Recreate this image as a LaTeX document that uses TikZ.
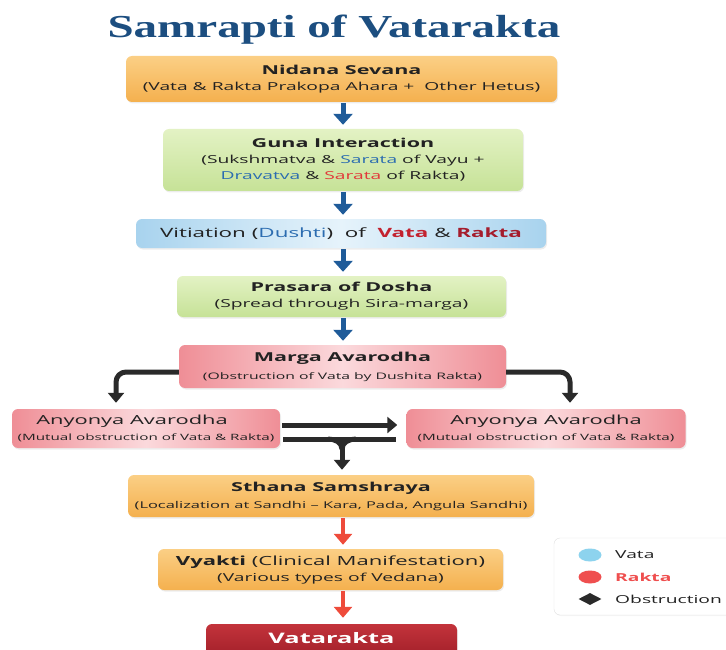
\documentclass[tikz,border=0pt]{standalone}
\usepackage{fontspec}
\setmainfont{Open Sans}[FakeStretch=1.75]
\newfontfamily\titlefont{Liberation Serif}[FakeStretch=1.47]
\usetikzlibrary{arrows.meta,shapes.geometric,shadows}

\definecolor{navy}{HTML}{1C4E80}
\definecolor{txt}{HTML}{222222}
\definecolor{arrblue}{HTML}{1F5B99}
\definecolor{arrdark}{HTML}{2A2A2A}
\definecolor{arrred}{HTML}{EE4B3B}
\definecolor{orgT}{HTML}{FBCF85}
\definecolor{orgB}{HTML}{F4B04E}
\definecolor{grnT}{HTML}{E3F2C4}
\definecolor{grnB}{HTML}{C6E297}
\definecolor{bluE}{HTML}{A8D3EE}
\definecolor{bluM}{HTML}{E6F3FB}
\definecolor{pnkE}{HTML}{EF8E96}
\definecolor{pnkM}{HTML}{FBD9DC}
\definecolor{vrkT}{HTML}{C3333B}
\definecolor{vrkB}{HTML}{A3202A}
\definecolor{dushti}{HTML}{2B6CB0}
\definecolor{vatared}{HTML}{C3222F}
\definecolor{raktared}{HTML}{A51D2D}
\definecolor{sarred}{HTML}{E2383A}
\definecolor{legvata}{HTML}{8DD3EE}
\definecolor{legrakta}{HTML}{EF4F4F}

\newcommand{\bhead}[1]{{\fontsize{12.3}{16}\selectfont\bfseries #1}}
\newcommand{\rhead}[1]{{\fontsize{12.5}{16}\selectfont #1}}

\begin{document}
\begin{tikzpicture}[x=1pt, y=-1pt]
	\tikzset{bx/.style={rounded corners=6pt, align=center, inner sep=0pt, text=txt,
			font=\fontsize{11}{16}\selectfont,
			drop shadow={opacity=0.15, shadow xshift=1pt, shadow yshift=-1.5pt}},
		org/.style={bx, top color=orgT, bottom color=orgB},
		grn/.style={bx, top color=grnT, bottom color=grnB},
		blu/.style={bx, left color=bluE, right color=bluE, middle color=bluM},
		pnk/.style={bx, left color=pnkE, right color=pnkE, middle color=pnkM},
		barr/.style={-{Triangle[width=19pt,length=11pt]}, line width=5pt, draw=arrblue},
		darr/.style={-{Triangle[width=16pt,length=10pt]}, line width=5pt, draw=arrdark, rounded corners=10pt},
		dline/.style={line width=5pt, draw=arrdark},
		rarr/.style={-{Triangle[width=18pt,length=11pt]}, line width=4pt, draw=arrred},
		legtxt/.style={anchor=west, inner sep=0pt, font=\fontsize{11}{13}\selectfont, text=txt}};

	\useasboundingbox (0,0) rectangle (726,650);

	\node[anchor=base, text=navy, font=\titlefont\fontsize{32}{40}\selectfont\bfseries] (title) at (334,38) {Samrapti of Vatarakta};

	\node[org, minimum width=431pt, minimum height=46pt] (nid) at (341.5,79)
		{\bhead{Nidana Sevana}\\(Vata \& Rakta Prakopa Ahara +\ \ Other Hetus)};
	\node[grn, minimum width=360pt, minimum height=62pt] (guna) at (343,160)
		{\bhead{Guna Interaction}\\(Sukshmatva \& \textcolor{dushti}{Sarata} of Vayu +\\\textcolor{dushti}{Dravatva} \& \textcolor{sarred}{Sarata} of Rakta)};
	\node[blu, minimum width=410pt, minimum height=29pt, font=\fontsize{12.8}{16}\selectfont] (vit) at (341,233.5)
		{Vitiation (\textcolor{dushti}{Dushti})\ \ of\ \ \textbf{\textcolor{vatared}{Vata}} \& \textbf{\textcolor{raktared}{Rakta}}};
	\node[grn, minimum width=329pt, minimum height=41pt] (pras) at (341.5,296.5)
		{\bhead{Prasara of Dosha}\\(Spread through Sira-marga)};
	\node[pnk, minimum width=327pt, minimum height=43pt, font=\fontsize{9}{18}\selectfont] (marga) at (342.5,366.5)
		{\bhead{Marga Avarodha}\\(Obstruction of Vata by Dushita Rakta)};
	\node[pnk, minimum width=268pt, minimum height=39pt, font=\fontsize{8.7}{16}\selectfont] (anyl) at (146,428.5)
		{\rhead{Anyonya Avarodha}\hspace*{28pt}\\(Mutual obstruction of Vata \& Rakta)};
	\node[pnk, minimum width=279pt, minimum height=39pt, font=\fontsize{8.7}{16}\selectfont] (anyr) at (546,428.5)
		{\rhead{Anyonya Avarodha}\\(Mutual obstruction of Vata \& Rakta)};
	\node[org, minimum width=406pt, minimum height=42pt, font=\fontsize{9.4}{17}\selectfont] (sthana) at (331,496)
		{\bhead{Sthana Samshraya}\\(Localization at Sandhi -- Kara, Pada, Angula Sandhi)};
	\node[org, minimum width=345pt, minimum height=41pt] (vyakti) at (330.5,569.5)
		{{\fontsize{12.6}{16}\selectfont\textbf{Vyakti} (Clinical Manifestation)}\\(Various types of Vedana)};
	\node[bx, top color=vrkT, bottom color=vrkB, text=white, minimum width=251pt, minimum height=32pt,
		text depth=5pt, font=\fontsize{14.5}{18}\selectfont\bfseries] (vrk) at (331.5,640) {Vatarakta};

	% legend
	\node[draw=black!12, fill=white, rounded corners=6pt, minimum width=186pt, minimum height=77pt,
		drop shadow={opacity=0.08, shadow xshift=1pt, shadow yshift=-1pt}] (leg) at (647,576.5) {};
	\node[ellipse, fill=legvata, minimum width=23pt, minimum height=13pt, inner sep=0pt] (lv) at (590,555) {};
	\node[ellipse, fill=legrakta, minimum width=23pt, minimum height=13pt, inner sep=0pt] (lr) at (590,577) {};
	\node[diamond, fill=arrdark, minimum width=23pt, minimum height=12pt, inner sep=0pt] (lo) at (590,599) {};
	\node[legtxt] (tv) at (615,555) {Vata};
	\node[legtxt, text=legrakta, font=\fontsize{11}{13}\selectfont\bfseries] (tr) at (615,577) {Rakta};
	\node[legtxt] (to) at (615,599) {Obstruction};

	\coordinate (ax) at (343,0);
	\coordinate (jn) at (342,439);

	\draw[barr, shorten <=1pt, shorten >=4pt] (nid.south -| ax) -- (guna.north -| ax);
	\draw[barr, shorten <=1pt, shorten >=4pt] (guna.south -| ax) -- (vit.north -| ax);
	\draw[barr, shorten <=1pt, shorten >=4pt] (vit.south -| ax) -- (pras.north -| ax);
	\draw[barr, shorten <=1pt, shorten >=4pt] (pras.south -| ax) -- (marga.north -| ax);

	\draw[darr, shorten >=6pt] ([yshift=-5.5pt]marga.west) -| ([xshift=-30pt]anyl.north);
	\draw[darr, shorten >=6pt] ([yshift=-5.5pt]marga.east) -| ([xshift=24pt]anyr.north);

	\draw[darr, rounded corners=0pt, shorten <=2pt, shorten >=9pt] ([yshift=3.5pt]anyl.east) -- ([yshift=3.5pt]anyr.west);
	\draw[dline, shorten <=3pt, shorten >=10pt] ([yshift=-10.5pt]anyl.east) -- ([yshift=-10.5pt]anyr.west);
	\draw[dline] ([xshift=-14pt]jn) to[out=0, in=90] ([yshift=-10pt]jn);
	\draw[dline] ([xshift=14pt]jn) to[out=180, in=90] ([yshift=-10pt]jn);
	\draw[darr, shorten >=5pt] ([yshift=-9pt]jn) -- (sthana.north -| jn);

	\draw[rarr, shorten <=1pt, shorten >=4pt] (sthana.south -| ax) -- (vyakti.north -| ax);
	\draw[rarr, shorten <=1pt, shorten >=6pt] (vyakti.south -| ax) -- (vrk.north -| ax);
\end{tikzpicture}
\end{document}
